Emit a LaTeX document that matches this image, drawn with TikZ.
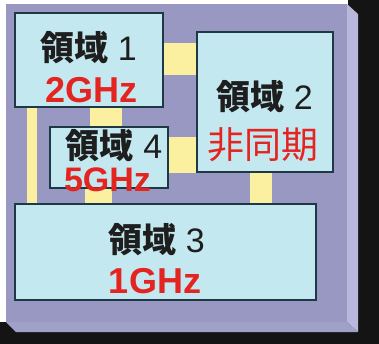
\documentclass[tikz,border=0pt]{standalone}
\usepackage{fontspec}
\setmainfont{Liberation Sans}
\newfontfamily\cjk{Noto Sans CJK JP}
\usetikzlibrary{calc}

\definecolor{boardface}{RGB}{152,152,194}
\definecolor{bevelside}{RGB}{184,184,220}
\definecolor{bevelbottom}{RGB}{160,160,200}
\definecolor{boxfill}{RGB}{196,232,240}
\definecolor{boxline}{RGB}{30,56,70}
\definecolor{busyellow}{RGB}{250,240,160}
\definecolor{clockred}{RGB}{228,36,32}
\definecolor{textblack}{RGB}{30,30,30}

\begin{document}
\begin{tikzpicture}[x=1pt,y=-1pt,
  clkbox/.style={draw=boxline,line width=1.5pt,fill=boxfill,inner sep=0pt},
  bus/.style={fill=busyellow},
  domname/.style={anchor=base,inner sep=0pt,text=textblack,font=\fontsize{34}{34}\selectfont},
  freqlabel/.style={anchor=base,inner sep=0pt,text=clockred,font=\bfseries\fontsize{36}{36}\selectfont}]
\useasboundingbox (0,0) rectangle (379,344);

% Shadow and board
\fill[white] (0,0) rectangle (379,344);
\fill[black!92] (348,0) rectangle (379,344);
\fill[black!92] (0,322) rectangle (379,344);
\fill[boardface] (6,4) rectangle (347,322);
\fill[bevelside] (347,4) -- (358,14) -- (358,332) -- (347,322) -- cycle;
\fill[bevelbottom] (6,322) -- (347,322) -- (358,332) -- (16,332) -- cycle;

% Clock domains
\node[clkbox,minimum width=148pt,minimum height=94pt] (d1) at (89,60) {};
\node[clkbox,minimum width=136pt,minimum height=140pt] (d2) at (265,102) {};
\node[clkbox,minimum width=118pt,minimum height=61pt] (d4) at (109,157.5) {};
\node[clkbox,minimum width=301pt,minimum height=96pt] (d3) at (165.5,252) {};

% Links between domains
\fill[bus] (d1.east |- 0,43) rectangle (d2.west |- 0,75);
\fill[bus] (27,0 |- d1.south) rectangle (37,0 |- d3.north);
\fill[bus] (90,0 |- d1.south) rectangle (122,0 |- d4.north);
\fill[bus] (d4.east |- 0,137) rectangle (d2.south west);
\fill[bus] (85,0 |- d4.south) rectangle (112,0 |- d3.north);
\fill[bus] (250,0 |- d2.south) rectangle (272,0 |- d3.north);

% Labels
\node[domname] (n1) at (88.5,61) {{\cjk\bfseries 領域}~1};
\node[freqlabel] (f1) at (91.5,103) {2GHz};
\node[domname] (n2) at (264.5,110) {{\cjk\bfseries 領域}~2};
\node[freqlabel,font=\cjk\fontsize{37}{37}\selectfont] (f2) at (263,159) {非同期};
\node[domname] (n4) at (114,159) {{\cjk\bfseries 領域}~4};
\node[freqlabel,font=\bfseries\fontsize{34}{34}\selectfont] (f4) at (107.5,192) {5GHz};
\node[domname] (n3) at (156.5,252) {{\cjk\bfseries 領域}~3};
\node[freqlabel] (f3) at (155,293) {1GHz};
\end{tikzpicture}
\end{document}
